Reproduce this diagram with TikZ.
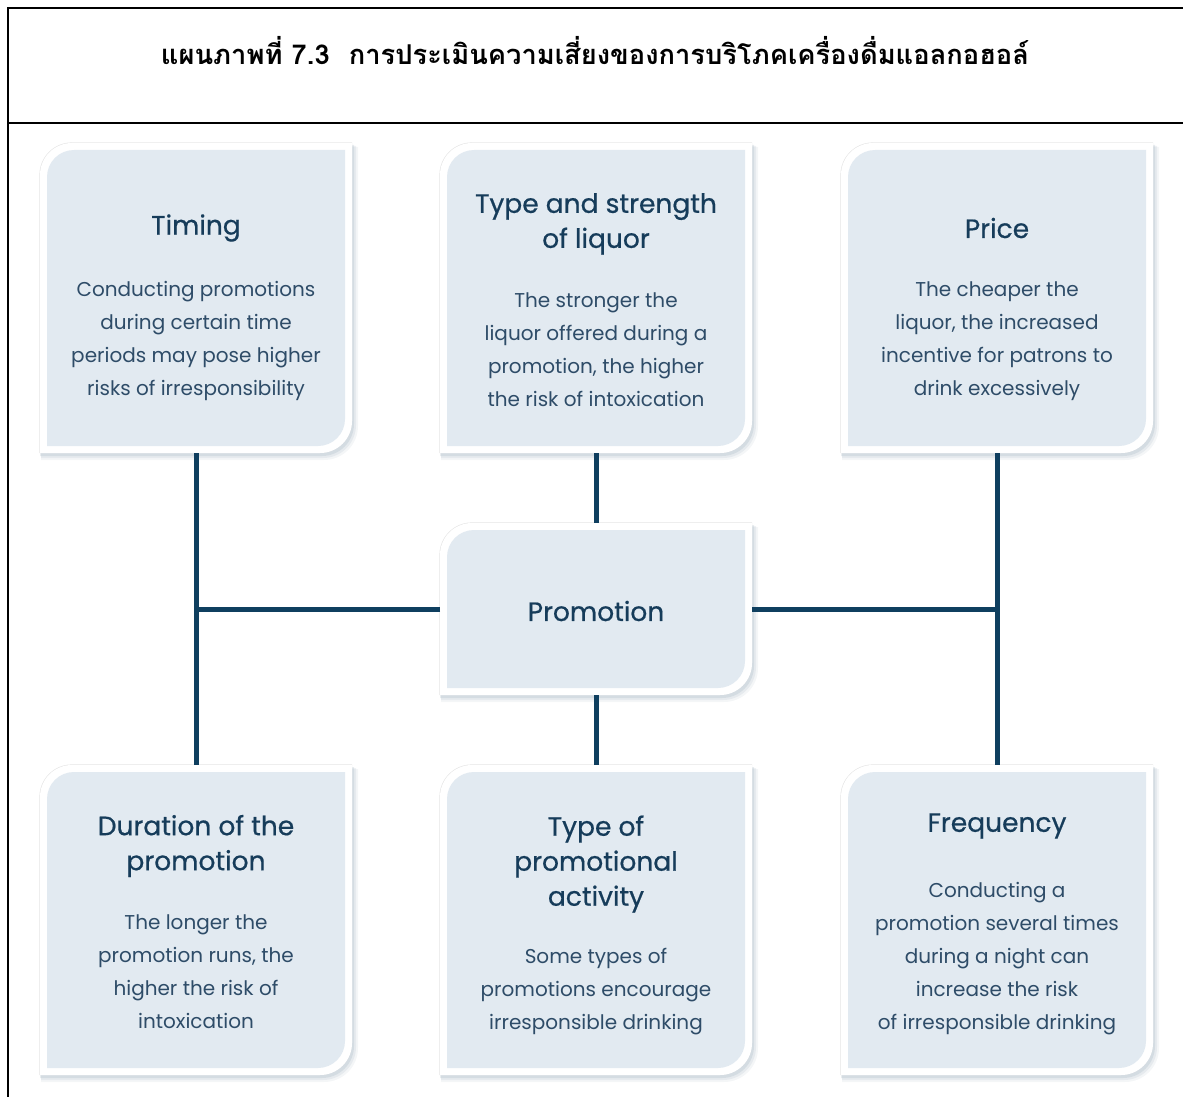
\documentclass[tikz,border=0pt]{standalone}
\usepackage{fontspec}
\setmainfont{Poppins}
\newfontfamily\thaifont[Script=Thai]{Loma}
\newfontfamily\headfont[FakeBold=0.6]{Poppins}
\definecolor{boxfill}{HTML}{E2EAF1}
\definecolor{linecol}{HTML}{0F3F5F}
\definecolor{headcol}{HTML}{163C5A}
\definecolor{bodycol}{HTML}{2E4C68}
\definecolor{shadecol}{HTML}{8FA3B3}

% options, x0, y0, x1, y1, radius
\newcommand\boxshape[6]{%
  \fill[#1] (#2,#5) -- (#2,#3+#6) .. controls (#2,#3+0.4477*#6) and (#2+0.4477*#6,#3) .. (#2+#6,#3)
    -- (#4,#3) -- (#4,#5-#6) .. controls (#4,#5-0.4477*#6) and (#4-0.4477*#6,#5) .. (#4-#6,#5) -- cycle;}

% name, x0, y0, x1, y1
\newcommand\promobox[5]{%
  \boxshape{shadecol, opacity=0.10}{#2+1}{#3+4}{#4+6}{#5+7}{34}
  \boxshape{shadecol, opacity=0.14}{#2+1}{#3+3}{#4+4}{#5+5}{33}
  \boxshape{shadecol, opacity=0.20}{#2}{#3+2}{#4+2}{#5+3}{32}
  \boxshape{black!10}{#2-0.6}{#3-0.6}{#4}{#5}{32.5}
  \boxshape{white}{#2}{#3}{#4}{#5}{32}
  \boxshape{boxfill}{#2+7}{#3+7}{#4-7}{#5-7}{27}
  \node[boxnode, minimum width={#4-#2}, minimum height={#5-#3}] (#1) at ({(#2+#4)/2},{(#3+#5)/2}) {};}

\tikzset{
  boxnode/.style={inner sep=0pt, outer sep=0pt, rectangle},
  conn/.style={draw=linecol, line width=5pt},
  headtxt/.style={align=center, text=headcol, font=\headfont\fontsize{26.5}{35}\selectfont, inner sep=0pt},
  bodytxt/.style={align=center, text=bodycol, font=\fontsize{20}{33}\selectfont, inner sep=0pt},
  frame/.style={draw=black, line width=1.6pt}
}

\begin{document}
\begin{tikzpicture}[x=1pt, y=-1pt]
\useasboundingbox (0,0) rectangle (1183,1097);

% frame
\coordinate (ftr) at (1183,8);
\coordinate (ftl) at (8,8);
\coordinate (fbl) at (8,1097);
\coordinate (fml) at (8,123);
\coordinate (fmr) at (1183,123);
\draw[frame] (ftr) -- (ftl) -- (fbl);
\draw[frame] (fml) -- (fmr);

\node[font=\thaifont\bfseries\fontsize{27.3}{30}\selectfont, inner sep=0pt] (title) at (595,51)
  {แผนภาพที่ 7.3\hspace{0.7em}การประเมินความเสี่ยงของการบริโภคเครื่องดื่มแอลกอฮอล์};

% box frames (named nodes)
\promobox{timing}{40}{143}{352}{453}
\promobox{strength}{440}{143}{752}{453}
\promobox{price}{841}{143}{1153}{453}
\promobox{promo}{440}{523}{752}{695}
\promobox{duration}{40}{765}{352}{1075}
\promobox{activity}{440}{765}{752}{1075}
\promobox{frequency}{841}{765}{1153}{1075}

% connectors
\draw[conn] (timing.south) -- (duration.north);
\draw[conn] (price.south) -- (frequency.north);
\draw[conn] (strength.south) -- (promo.north);
\draw[conn] (promo.south) -- (activity.north);
\draw[conn] (promo.west) -- (promo.west -| timing.south);
\draw[conn] (promo.east) -- (promo.east -| price.south);

% texts
\node[headtxt] (timingH) at (196,228) {Timing};
\node[bodytxt] (timingB) at (196,341) {Conducting promotions\\during certain time\\periods may pose higher\\risks of irresponsibility};

\node[headtxt] (strengthH) at (596,224) {Type and strength\\of liquor};
\node[bodytxt] (strengthB) at (596,350) {The stronger the\\liquor offered during a\\promotion, the higher\\the risk of intoxication};

\node[headtxt] (priceH) at (997,228) {Price};
\node[bodytxt] (priceB) at (997,341) {The cheaper the\\liquor, the increased\\incentive for patrons to\\drink excessively};

\node[headtxt] (promoH) at (596,611) {Promotion};

\node[headtxt] (durationH) at (196,846) {Duration of the\\promotion};
\node[bodytxt] (durationB) at (196,972) {The longer the\\promotion runs, the\\higher the risk of\\intoxication};

\node[headtxt] (activityH) at (596,864) {Type of\\promotional\\activity};
\node[bodytxt] (activityB) at (596,992) {Some types of\\promotions encourage\\irresponsible drinking};

\node[headtxt] (frequencyH) at (997,826) {Frequency};
\node[bodytxt] (frequencyB) at (997,959) {Conducting a\\promotion several times\\during a night can\\increase the risk\\of irresponsible drinking};
\end{tikzpicture}
\end{document}
